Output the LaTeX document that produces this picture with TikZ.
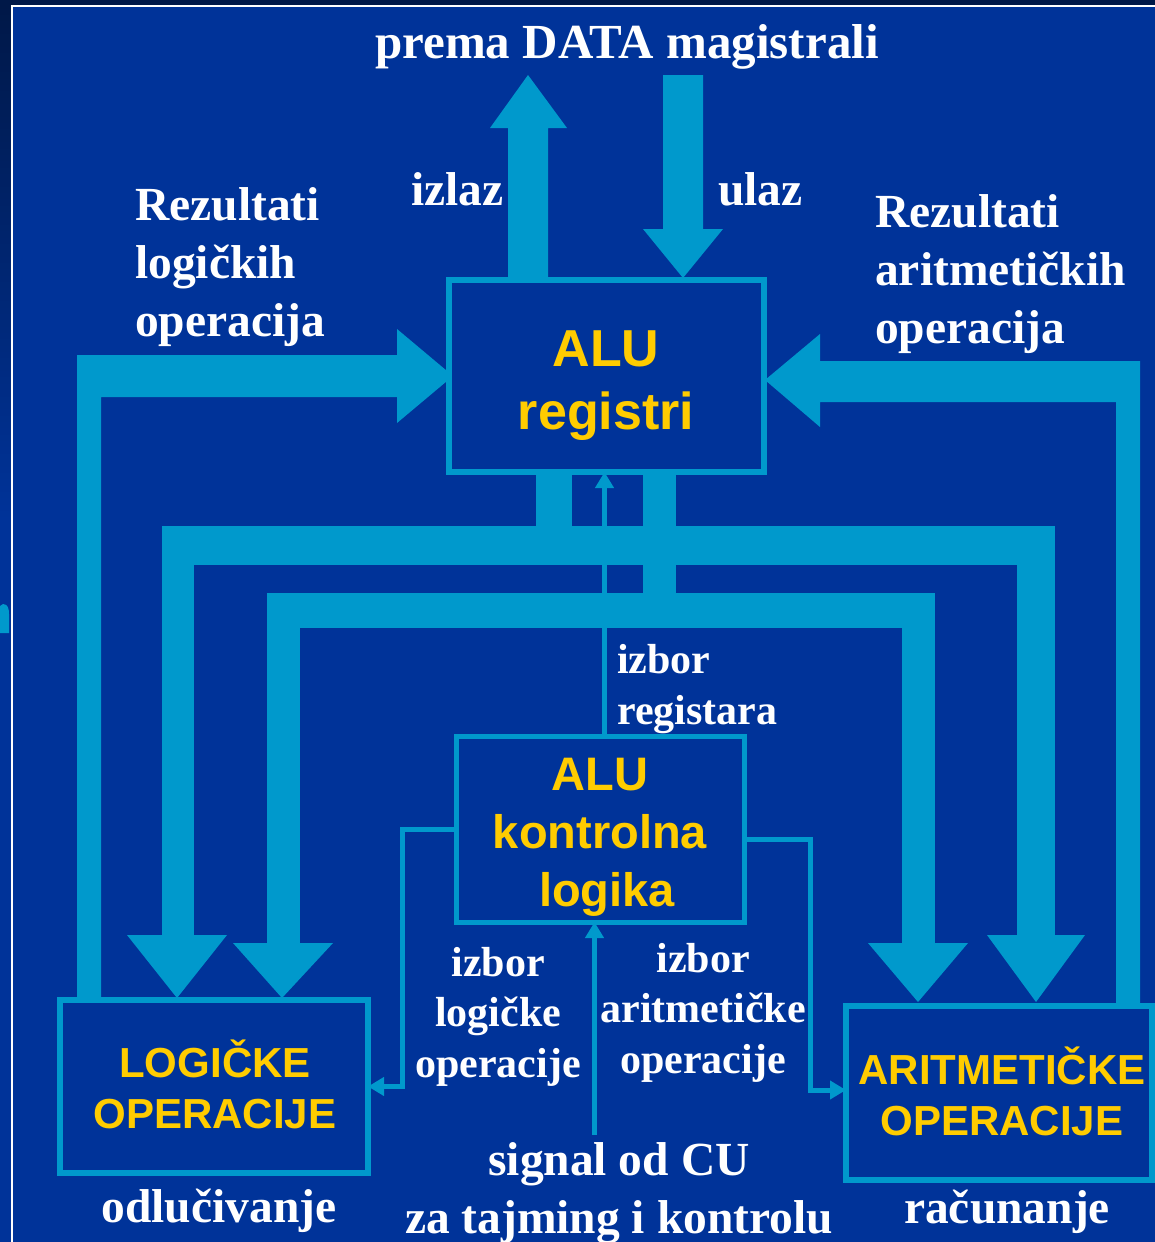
\documentclass[tikz,border=0pt]{standalone}
\usepackage{fontspec}
\setmainfont{Liberation Serif}
\setsansfont{Liberation Sans}
\usetikzlibrary{arrows.meta}

\definecolor{slide}{HTML}{003399}
\definecolor{band}{HTML}{0099CC}
\definecolor{gold}{HTML}{FFCC00}
\definecolor{navy}{HTML}{001848}

\tikzset{
  unit/.style={draw=band, fill=slide, line width=6pt, inner sep=0pt, outer sep=0pt},
  wire/.style={draw=band, line width=5pt, -{Triangle[length=16pt,width=18pt]}},
  wtext/.style={text=white, inner sep=0pt, font=\bfseries\fontsize{47.5}{58}\selectfont},
  wsmall/.style={text=white, inner sep=0pt, font=\bfseries\fontsize{42}{50.5}\selectfont},
  ybig/.style={text=gold, inner sep=0pt, align=center, font=\sffamily\bfseries\fontsize{52}{63}\selectfont},
  ymid/.style={text=gold, inner sep=0pt, align=center, font=\sffamily\bfseries\fontsize{47}{58}\selectfont},
  ysmall/.style={text=gold, inner sep=0pt, align=center, font=\sffamily\bfseries\fontsize{42}{51}\selectfont},
}

\begin{document}
\begin{tikzpicture}[x=1pt, y=-1pt]
\useasboundingbox (0,0) rectangle (1155,1242);

% slide background and frame
\fill[slide] (0,0) rectangle (1155,1242);
\fill[navy] (0,0) rectangle (1155,5);
\shade[top color=navy, bottom color=slide] (0,5) rectangle (11.5,520);
\draw[white, line width=1.6pt] (12.2,1242) -- (12.2,6) -- (1155,6);
\fill[band] (0,606) -- (3,604) .. controls (8,604) and (9,609) .. (9,614) -- (9,633) -- (0,633) -- cycle;

% data bus: output (up) and input (down)
\fill[band] (508,280) -- (508,128) -- (490,128) -- (528,75) -- (567,128) -- (548,128) -- (548,280) -- cycle;
\fill[band] (663,75) -- (663,229) -- (643,229) -- (683,278) -- (723,229) -- (703,229) -- (703,75) -- cycle;

% results of logic operations back to the registers
\fill[band] (77,1000) -- (77,355) -- (397,355) -- (397,329) -- (453,376) -- (397,423) -- (397,397) -- (101,397) -- (101,1000) -- cycle;
% results of arithmetic operations back to the registers
\fill[band] (1140,1006) -- (1140,361) -- (820,361) -- (820,334) -- (765,380) -- (820,427) -- (820,402) -- (1116,402) -- (1116,1006) -- cycle;

% operand bus 1 (outer)
\fill[band] (536,472) rectangle (572,530);
\fill[band] (162,526) rectangle (1055,565);
\fill[band] (162,526) rectangle (194,936);
\fill[band] (1017,526) rectangle (1055,936);
\fill[band] (127,935) -- (227,935) -- (177,998) -- cycle;
\fill[band] (987,935) -- (1085,935) -- (1036,1002) -- cycle;
% operand bus 2 (inner)
\fill[band] (643,472) rectangle (676,600);
\fill[band] (267,593) rectangle (935,628);
\fill[band] (267,593) rectangle (300,944);
\fill[band] (902,593) rectangle (935,944);
\fill[band] (233,943) -- (333,943) -- (282,998) -- cycle;
\fill[band] (868,943) -- (968,943) -- (918,1002) -- cycle;

% functional units
\node[unit, minimum width=315pt, minimum height=192pt] (reg) at (606.5,376) {};
\node[unit, line width=5pt, minimum width=288pt, minimum height=186pt] (ctl) at (600,829) {};
\node[unit, minimum width=308pt, minimum height=173pt] (log) at (214,1086.5) {};
\node[unit, minimum width=306pt, minimum height=174pt] (ari) at (999,1093) {};

% control signals
\coordinate (selreg) at (604.5,0);
\coordinate (cu) at (594.5,1135);
\draw[wire] (selreg |- ctl.north) -- (selreg |- reg.south);
\draw[wire] (ctl.west) -- ++(-54,0) |- (log.east);
\draw[wire] ([yshift=-10pt]ctl.east) -- ++(66,0) |- ([yshift=3pt]ari.west);
\draw[wire] (cu) -- (cu |- ctl.south);

% labels (multi-line nodes are placed by the baseline of their last line)
\node[wtext, anchor=base, font=\bfseries\fontsize{49}{58}\selectfont] (title) at (627,58) {prema DATA magistrali};
\node[wtext, anchor=base west] (outlbl) at (411,205) {izlaz};
\node[wtext, anchor=base west] (inlbl) at (718,205) {ulaz};
\node[wtext, anchor=base west, align=left] (reslog) at (135,336) {Rezultati\\logičkih\\operacija};
\node[wtext, anchor=base west, align=left] (resari) at (875,343) {Rezultati\\aritmetičkih\\operacija};
\node[ybig, anchor=base] (regtxt) at (606,429) {ALU\\registri};
\node[wsmall, anchor=base west, align=left] (selregtxt) at (617,724) {izbor\\registara};
\node[ymid, anchor=base] (ctltxt) at (600,906) {ALU\\kontrolna\\\hspace*{14pt}logika};
\node[wsmall, anchor=base, align=center] (sellog) at (498,1077) {izbor\\logičke\\operacije};
\node[wsmall, anchor=base, align=center] (selari) at (703,1073) {izbor\\aritmetičke\\operacije};
\node[ysmall, anchor=base] (logtxt) at (215,1128) {LOGIČKE\\OPERACIJE};
\node[ysmall, anchor=base] (aritxt) at (1002,1135) {ARITMETIČKE\\OPERACIJE};
\node[wtext, anchor=base] (dec) at (219,1222) {odlučivanje};
\node[wtext, anchor=base] (calc) at (1007,1223) {računanje};
\node[wtext, anchor=base, align=center] (cutxt) at (619,1233) {signal od CU\\za tajming i kontrolu};
\end{tikzpicture}
\end{document}
